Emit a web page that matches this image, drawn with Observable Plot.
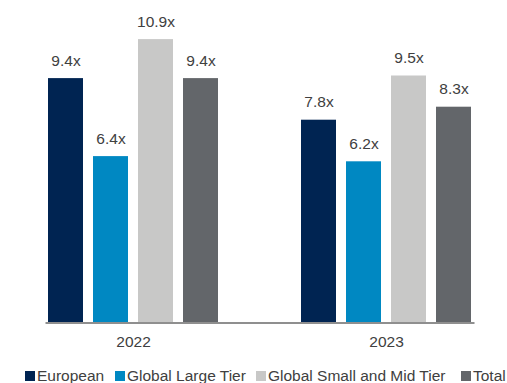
<!DOCTYPE html>
<html>
<head>
<meta charset="utf-8">
<script src="https://cdn.jsdelivr.net/npm/d3@7"></script>
<script src="https://cdn.jsdelivr.net/npm/@observablehq/plot@0.6"></script>
<style>
  html, body { margin: 0; padding: 0; background: #fff; }
  #wrap { position: relative; width: 507px; height: 383px; overflow: hidden; font-family: "Liberation Sans", Arial, sans-serif; }
  #legend { position: absolute; left: 0; top: 367px; width: 507px; height: 17px; white-space: nowrap; font-size: 15.5px; line-height: 17px; color: #404040; }
  #legend .item { position: absolute; top: 0; }
  #legend .item:nth-child(1) { left: 25px; }
  #legend .item:nth-child(2) { left: 115px; }
  #legend .item:nth-child(3) { left: 256px; }
  #legend .item:nth-child(4) { left: 461px; }
  #legend .sw { display: inline-block; width: 10px; height: 10px; margin-right: 2px; vertical-align: baseline; }
</style>
</head>
<body>
<div id="wrap"><div id="chart"></div><div id="legend"></div></div>
<script>
const years = ["2022", "2023"];
const series = ["European", "Global Large Tier", "Global Small and Mid Tier", "Total"];
const values2022 = [9.4, 6.4, 10.9, 9.4];
const values2023 = [7.8, 6.2, 9.5, 8.3];
const colors = ["#002452", "#0088c2", "#c8c8c7", "#63666a"];

const valuesByYear = [values2022, values2023];
const data = years.flatMap((year, i) => series.map((s, j) => ({year, series: s, value: valuesByYear[i][j]})));

const chart = Plot.plot({
  width: 507,
  height: 355,
  marginLeft: 7,
  marginRight: 0,
  marginTop: 10.5,
  marginBottom: 32.5,
  style: {fontFamily: "'Liberation Sans', Arial, sans-serif", fontSize: "15.5px", color: "#404040", background: "#fff"},
  fx: {domain: years, paddingInner: 0.313, paddingOuter: 0.143, align: 0.533, label: null, axis: "bottom", tickSize: 0, tickPadding: 13},
  x: {domain: series, paddingInner: 0.217, paddingOuter: 0, axis: null},
  y: {domain: [0, 12], axis: null},
  color: {domain: series, range: colors},
  marks: [
    Plot.barY(data, {fx: "year", x: "series", y: "value", fill: "series"}),
    Plot.text(data, {fx: "year", x: "series", y: "value", text: d => d.value.toFixed(1) + "x", lineAnchor: "bottom", dy: -13, fill: "#404040", fontSize: 15.5}),
    Plot.frame({anchor: "bottom", facet: "super", stroke: "#8f8f8f", strokeWidth: 2})
  ]
});
document.getElementById("chart").appendChild(chart);

const legend = document.getElementById("legend");
series.forEach((s, i) => {
  const item = document.createElement("span");
  item.className = "item";
  const sw = document.createElement("span");
  sw.className = "sw";
  sw.style.background = colors[i];
  item.appendChild(sw);
  item.appendChild(document.createTextNode(s));
  legend.appendChild(item);
});
</script>
</body>
</html>
